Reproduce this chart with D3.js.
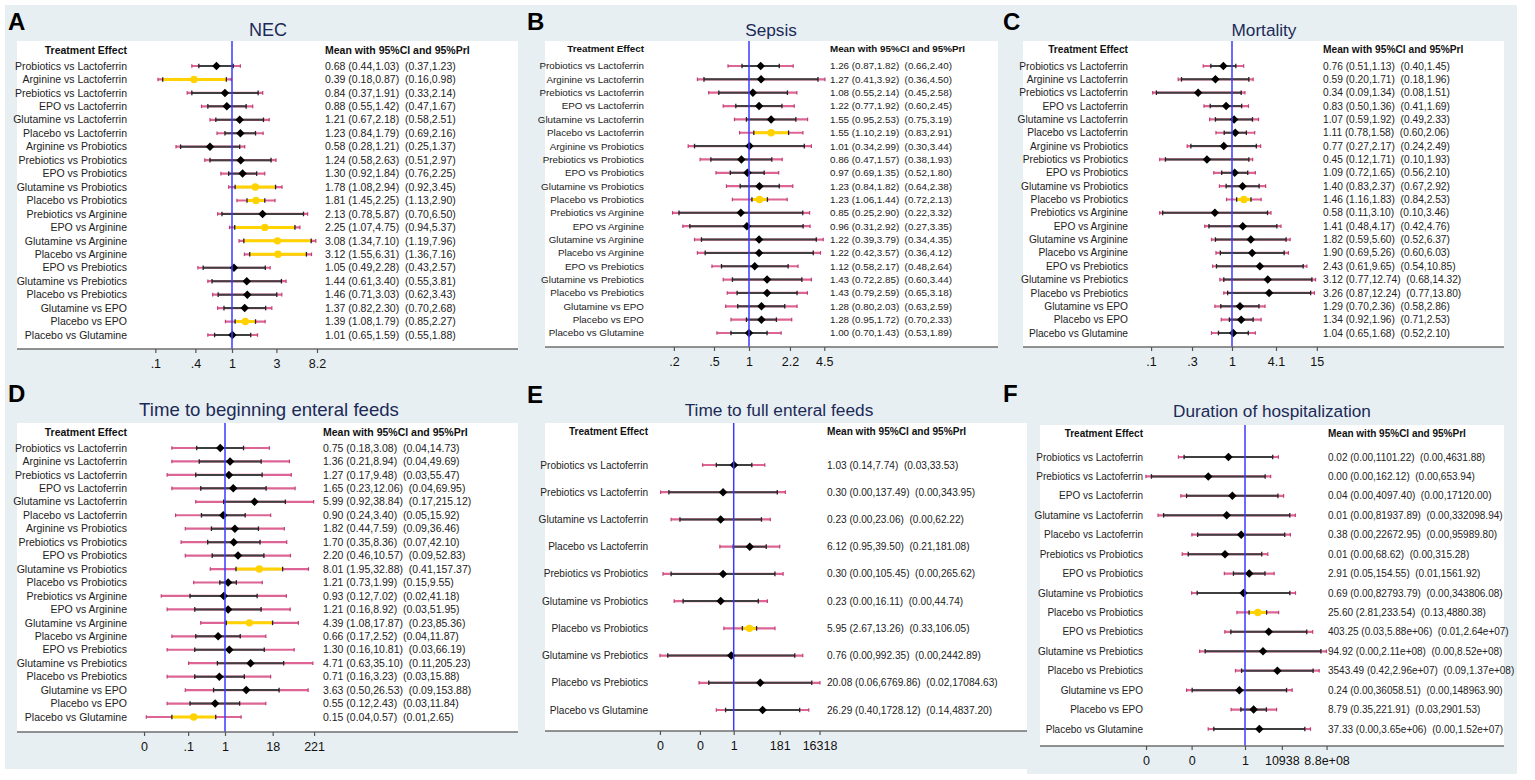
<!DOCTYPE html>
<html>
<head>
<meta charset="utf-8">
<script src="https://cdn.jsdelivr.net/npm/d3@7"></script>
<style>
body { margin: 0; background: #fff; }
text { font-family: "Liberation Sans", Arial, sans-serif; }
</style>
</head>
<body>
<div id="chart"></div>
<script>
///////////////////////////////////////////////////////////////////////////
////////////////////////////// Data ///////////////////////////////////////
///////////////////////////////////////////////////////////////////////////

// row = [mean, ci low, ci high, prI low, prI high]
var comparisons21 = ["Probiotics vs Lactoferrin", "Arginine vs Lactoferrin", "Prebiotics vs Lactoferrin",
    "EPO vs Lactoferrin", "Glutamine vs Lactoferrin", "Placebo vs Lactoferrin", "Arginine vs Probiotics",
    "Prebiotics vs Probiotics", "EPO vs Probiotics", "Glutamine vs Probiotics", "Placebo vs Probiotics",
    "Prebiotics vs Arginine", "EPO vs Arginine", "Glutamine vs Arginine", "Placebo vs Arginine",
    "EPO vs Prebiotics", "Glutamine vs Prebiotics", "Placebo vs Prebiotics", "Glutamine vs EPO",
    "Placebo vs EPO", "Placebo vs Glutamine"];

var necRows = [
    [0.68, 0.44, 1.03, 0.37, 1.23], [0.39, 0.18, 0.87, 0.16, 0.98], [0.84, 0.37, 1.91, 0.33, 2.14],
    [0.88, 0.55, 1.42, 0.47, 1.67], [1.21, 0.67, 2.18, 0.58, 2.51], [1.23, 0.84, 1.79, 0.69, 2.16],
    [0.58, 0.28, 1.21, 0.25, 1.37], [1.24, 0.58, 2.63, 0.51, 2.97], [1.30, 0.92, 1.84, 0.76, 2.25],
    [1.78, 1.08, 2.94, 0.92, 3.45], [1.81, 1.45, 2.25, 1.13, 2.90], [2.13, 0.78, 5.87, 0.70, 6.50],
    [2.25, 1.07, 4.75, 0.94, 5.37], [3.08, 1.34, 7.10, 1.19, 7.96], [3.12, 1.55, 6.31, 1.36, 7.16],
    [1.05, 0.49, 2.28, 0.43, 2.57], [1.44, 0.61, 3.40, 0.55, 3.81], [1.46, 0.71, 3.03, 0.62, 3.43],
    [1.37, 0.82, 2.30, 0.70, 2.68], [1.39, 1.08, 1.79, 0.85, 2.27], [1.01, 0.65, 1.59, 0.55, 1.88]];

var sepsisRows = [
    [1.26, 0.87, 1.82, 0.66, 2.40], [1.27, 0.41, 3.92, 0.36, 4.50], [1.08, 0.55, 2.14, 0.45, 2.58],
    [1.22, 0.77, 1.92, 0.60, 2.45], [1.55, 0.95, 2.53, 0.75, 3.19], [1.55, 1.10, 2.19, 0.83, 2.91],
    [1.01, 0.34, 2.99, 0.30, 3.44], [0.86, 0.47, 1.57, 0.38, 1.93], [0.97, 0.69, 1.35, 0.52, 1.80],
    [1.23, 0.84, 1.82, 0.64, 2.38], [1.23, 1.06, 1.44, 0.72, 2.13], [0.85, 0.25, 2.90, 0.22, 3.32],
    [0.96, 0.31, 2.92, 0.27, 3.35], [1.22, 0.39, 3.79, 0.34, 4.35], [1.22, 0.42, 3.57, 0.36, 4.12],
    [1.12, 0.58, 2.17, 0.48, 2.64], [1.43, 0.72, 2.85, 0.60, 3.44], [1.43, 0.79, 2.59, 0.65, 3.18],
    [1.28, 0.80, 2.03, 0.63, 2.59], [1.28, 0.95, 1.72, 0.70, 2.33], [1.00, 0.70, 1.43, 0.53, 1.89]];

var mortalityRows = [
    [0.76, 0.51, 1.13, 0.40, 1.45], [0.59, 0.20, 1.71, 0.18, 1.96], [0.34, 0.09, 1.34, 0.08, 1.51],
    [0.83, 0.50, 1.36, 0.41, 1.69], [1.07, 0.59, 1.92, 0.49, 2.33], [1.11, 0.78, 1.58, 0.60, 2.06],
    [0.77, 0.27, 2.17, 0.24, 2.49], [0.45, 0.12, 1.71, 0.10, 1.93], [1.09, 0.72, 1.65, 0.56, 2.10],
    [1.40, 0.83, 2.37, 0.67, 2.92], [1.46, 1.16, 1.83, 0.84, 2.53], [0.58, 0.11, 3.10, 0.10, 3.46],
    [1.41, 0.48, 4.17, 0.42, 4.76], [1.82, 0.59, 5.60, 0.52, 6.37], [1.90, 0.69, 5.26, 0.60, 6.03],
    [2.43, 0.61, 9.65, 0.54, 10.85], [3.12, 0.77, 12.74, 0.68, 14.32], [3.26, 0.87, 12.24, 0.77, 13.80],
    [1.29, 0.70, 2.36, 0.58, 2.86], [1.34, 0.92, 1.96, 0.71, 2.53], [1.04, 0.65, 1.68, 0.52, 2.10]];

var beginFeedRows = [
    [0.75, 0.18, 3.08, 0.04, 14.73], [1.36, 0.21, 8.94, 0.04, 49.69], [1.27, 0.17, 9.48, 0.03, 55.47],
    [1.65, 0.23, 12.06, 0.04, 69.95], [5.99, 0.92, 38.84, 0.17, 215.12], [0.90, 0.24, 3.40, 0.05, 15.92],
    [1.82, 0.44, 7.59, 0.09, 36.46], [1.70, 0.35, 8.36, 0.07, 42.10], [2.20, 0.46, 10.57, 0.09, 52.83],
    [8.01, 1.95, 32.88, 0.41, 157.37], [1.21, 0.73, 1.99, 0.15, 9.55], [0.93, 0.12, 7.02, 0.021, 41.18],
    [1.21, 0.16, 8.92, 0.03, 51.95], [4.39, 1.08, 17.87, 0.23, 85.36], [0.66, 0.17, 2.52, 0.04, 11.87],
    [1.30, 0.16, 10.81, 0.03, 66.19], [4.71, 0.63, 35.10, 0.11, 205.23], [0.71, 0.16, 3.23, 0.03, 15.88],
    [3.63, 0.50, 26.53, 0.09, 153.88], [0.55, 0.12, 2.43, 0.03, 11.84], [0.15, 0.04, 0.57, 0.0085, 2.65]];

var comparisonsE = ["Probiotics vs Lactoferrin", "Prebiotics vs Lactoferrin", "Glutamine vs Lactoferrin",
    "Placebo vs Lactoferrin", "Prebiotics vs Probiotics", "Glutamine vs Probiotics", "Placebo vs Probiotics",
    "Glutamine vs Prebiotics", "Placebo vs Prebiotics", "Placebo vs Glutamine"];

var fullFeedRows = [
    [1.03, 0.14, 7.74, 0.03, 33.53], [0.30, 0.00066, 137.49, 0.00026, 343.95],
    [0.23, 0.0023, 23.06, 0.00085, 62.22], [6.12, 0.95, 39.50, 0.21, 181.08],
    [0.30, 0.00085, 105.45, 0.00034, 265.62], [0.23, 0.0033, 16.11, 0.0012, 44.74],
    [5.95, 2.67, 13.26, 0.33, 106.05], [0.76, 0.00058, 992.35, 0.00024, 2442.89],
    [20.08, 0.06, 6769.86, 0.02, 17084.63], [26.29, 0.40, 1728.12, 0.14, 4837.20]];

var comparisonsF = ["Probiotics vs Lactoferrin", "Prebiotics vs Lactoferrin", "EPO vs Lactoferrin",
    "Glutamine vs Lactoferrin", "Placebo vs Lactoferrin", "Prebiotics vs Probiotics", "EPO vs Probiotics",
    "Glutamine vs Probiotics", "Placebo vs Probiotics", "EPO vs Prebiotics", "Glutamine vs Prebiotics",
    "Placebo vs Prebiotics", "Glutamine vs EPO", "Placebo vs EPO", "Placebo vs Glutamine"];

var hospitalRows = [
    [0.0152, 2.1e-7, 1101.22, 5.0e-8, 4631.88], [9.4e-5, 5.5e-11, 162.12, 1.36e-11, 653.94],
    [0.041, 3.9e-7, 4097.40, 9.3e-8, 17120.00], [0.0098, 1.18e-9, 81937.89, 2.9e-10, 332098.94],
    [0.38, 6.4e-6, 22672.95, 1.5e-6, 95989.80], [0.0064, 6.0e-7, 68.62, 1.3e-7, 315.28],
    [2.91, 0.054, 154.55, 0.0054, 1561.92], [0.69, 5.7e-6, 82793.79, 1.4e-6, 343806.08],
    [25.60, 2.81, 233.54, 0.13, 4880.38], [403.25, 0.028, 5.88e6, 0.0062, 2.64e7],
    [94.92, 4.3e-5, 2.11e8, 1.06e-5, 8.52e8], [3543.49, 0.42, 2.96e7, 0.09, 1.37e8],
    [0.24, 1.6e-6, 36058.51, 3.9e-7, 148963.90], [8.79, 0.35, 221.91, 0.03, 2901.53],
    [37.33, 3.8e-4, 3.65e6, 9.2e-5, 1.52e7]];

// axis ticks (positions on the log scale) and their printed labels
var necTicks = [0.15, 0.404, 1, 3, 8.2],           necTickLabels = [".1", ".4", "1", "3", "8.2"];
var sepsisTicks = [0.226, 0.5, 1, 2.25, 4.44],     sepsisTickLabels = [".2", ".5", "1", "2.2", "4.5"];
var mortalityTicks = [0.076, 0.28, 1, 4.06, 14.9], mortalityTickLabels = [".1", ".3", "1", "4.1", "15"];
var beginFeedTicks = [0.0074, 0.107, 1, 18, 221],  beginFeedTickLabels = ["0", ".1", "1", "18", "221"];
var fullFeedTicks = [0.00024, 0.022, 1, 181, 16318], fullFeedTickLabels = ["0", "0", "1", "181", "16318"];
var hospitalTicks = [1.4e-11, 1.4e-6, 1, 10938, 8.8e8], hospitalTickLabels = ["0", "0", "1", "10938", "8.8e+08"];

///////////////////////////////////////////////////////////////////////////
///////////////////////////// Layout //////////////////////////////////////
///////////////////////////////////////////////////////////////////////////

var panels = [
    {letter: "A", title: "NEC", names: comparisons21, rows: necRows, ticks: necTicks, tickLabels: necTickLabels,
     box: [17, 41, 518, 349], cx: 232, k: 40.4, labelX: 127, textX: 325, headerY: 50, rowY: [66, 335],
     fs: 10.5, titleX: 268, titleY: 36, titleFs: 18, letterX: 8, letterY: 30},
    {letter: "B", title: "Sepsis", names: comparisons21, rows: sepsisRows, ticks: sepsisTicks, tickLabels: sepsisTickLabels,
     box: [545, 41, 998, 347], cx: 749, k: 50.5, labelX: 644, textX: 830, headerY: 49, rowY: [66, 333],
     fs: 9.8, titleX: 771, titleY: 36, titleFs: 17.2, letterX: 527, letterY: 30},
    {letter: "C", title: "Mortality", names: comparisons21, rows: mortalityRows, ticks: mortalityTicks, tickLabels: mortalityTickLabels,
     box: [1023, 41, 1504, 347], cx: 1232, k: 31.4, labelX: 1128, textX: 1323, headerY: 49, rowY: [66, 333],
     fs: 10.2, titleX: 1264, titleY: 36, titleFs: 17.2, letterX: 1003, letterY: 30},
    {letter: "D", title: "Time to beginning enteral feeds", names: comparisons21, rows: beginFeedRows, ticks: beginFeedTicks, tickLabels: beginFeedTickLabels,
     box: [17, 423, 518, 732], cx: 225, k: 16.5, labelX: 127, textX: 323, headerY: 432, rowY: [448, 717],
     fs: 10.5, titleX: 269, titleY: 416, titleFs: 18.6, letterX: 8, letterY: 402},
    {letter: "E", title: "Time to full enteral feeds", names: comparisonsE, rows: fullFeedRows, ticks: fullFeedTicks, tickLabels: fullFeedTickLabels,
     box: [545, 423, 1027, 731], cx: 733.7, k: 8.85, labelX: 648, textX: 827, headerY: 431, rowY: [465, 710],
     fs: 10.1, titleX: 779, titleY: 416, titleFs: 17.3, letterX: 527, letterY: 403},
    {letter: "F", title: "Duration of hospitalization", names: comparisonsF, rows: hospitalRows, ticks: hospitalTicks, tickLabels: hospitalTickLabels,
     box: [1040, 425, 1504, 746], cx: 1245, k: 3.96, labelX: 1143, textX: 1328, headerY: 433, rowY: [457, 729],
     fs: 10, titleX: 1272, titleY: 417, titleFs: 17.2, letterX: 1003, letterY: 402}
];

var pink = "#dd6595",
    gold = "#ffd200",
    ciGrey = "#3f3f3f",
    refBlue = "#3a3aff",
    titleNavy = "#1b2a57";

var svg = d3.select("#chart").append("svg")
    .attr("width", 1535)
    .attr("height", 780);

//Light background of the figure
svg.append("rect").attr("x", 5).attr("y", 5).attr("width", 1512).attr("height", 764).style("fill", "#e8eff2");
svg.append("rect").attr("x", 1027).attr("y", 700).attr("width", 490).attr("height", 74).style("fill", "#e8eff2");

//Number format of the estimate column
function fmt(v) {
    if (v >= 1e6) return d3.format(".2e")(v).replace(/e([+-])(\d)$/, "e$10$2");
    return v.toFixed(2);
}

///////////////////////////////////////////////////////////////////////////
////////////////////////// Draw the forest plots //////////////////////////
///////////////////////////////////////////////////////////////////////////

panels.forEach(function(p) {
    var g = svg.append("g").attr("class", "panel");
    var b = p.box;

    g.append("rect")
        .attr("x", b[0]).attr("y", b[1])
        .attr("width", b[2] - b[0]).attr("height", b[3] - b[1])
        .style("fill", "#fff");

    var x = d3.scaleLog()
        .domain([1 / Math.E, Math.E])
        .range([p.cx - p.k, p.cx + p.k]);

    var y = d3.scaleLinear()
        .domain([0, p.names.length - 1])
        .range(p.rowY);

    //Panel letter and title
    g.append("text")
        .attr("x", p.letterX).attr("y", p.letterY)
        .style("font-size", "24px").style("font-weight", "bold").style("fill", "#000")
        .text(p.letter);

    g.append("text")
        .attr("x", p.titleX).attr("y", p.titleY)
        .attr("text-anchor", "middle")
        .style("font-size", p.titleFs + "px").style("fill", titleNavy)
        .text(p.title);

    //Column headers
    g.append("text")
        .attr("x", p.labelX).attr("y", p.headerY).attr("dy", "0.35em")
        .attr("text-anchor", "end")
        .style("font-size", p.fs + "px").style("font-weight", "bold").style("fill", "#111")
        .text("Treatment Effect");

    g.append("text")
        .attr("x", p.textX).attr("y", p.headerY).attr("dy", "0.35em")
        .style("font-size", p.fs + "px").style("font-weight", "bold").style("fill", "#111")
        .text("Mean with 95%CI and 95%PrI");

    var rows = g.selectAll(".row")
        .data(p.rows)
        .enter().append("g")
        .attr("class", "row")
        .attr("transform", function(d, i) { return "translate(0," + y(i) + ")"; });

    rows.append("text")
        .attr("x", p.labelX).attr("dy", "0.35em")
        .attr("text-anchor", "end")
        .style("font-size", p.fs + "px").style("fill", "#222")
        .text(function(d, i) { return p.names[i]; });

    rows.append("text")
        .attr("x", p.textX).attr("dy", "0.35em")
        .style("font-size", p.fs + "px").style("fill", "#222")
        .style("white-space", "pre")
        .text(function(d) {
            return fmt(d[0]) + " (" + fmt(d[1]) + "," + fmt(d[2]) + ")  (" + fmt(d[3]) + "," + fmt(d[4]) + ")";
        });

    function sig(d) { return d[1] > 1 || d[2] < 1; }

    //Prediction interval
    rows.append("line")
        .attr("x1", function(d) { return x(d[3]); })
        .attr("x2", function(d) { return x(d[4]); })
        .style("stroke", pink).style("stroke-width", 2.2);

    rows.selectAll(".prEnd")
        .data(function(d) { return [d[3], d[4]]; })
        .enter().append("line")
        .attr("x1", function(v) { return x(v); }).attr("x2", function(v) { return x(v); })
        .attr("y1", -1.8).attr("y2", 1.8)
        .style("stroke", "#c23d72").style("stroke-width", 1.2);

    //Confidence interval
    rows.append("line")
        .attr("x1", function(d) { return x(d[1]); })
        .attr("x2", function(d) { return x(d[2]); })
        .style("stroke", function(d) { return sig(d) ? gold : ciGrey; })
        .style("stroke-width", function(d) { return sig(d) ? 3 : 2; });

    rows.selectAll(".ciEnd")
        .data(function(d) { return [d[1], d[2]]; })
        .enter().append("line")
        .attr("x1", function(v) { return x(v); }).attr("x2", function(v) { return x(v); })
        .attr("y1", -2.3).attr("y2", 2.3)
        .style("stroke", "#222").style("stroke-width", 1.3);

    //Reference line at 1
    g.append("line")
        .attr("x1", x(1)).attr("x2", x(1))
        .attr("y1", b[1]).attr("y2", b[3])
        .style("stroke", refBlue).style("stroke-width", 1.5);

    //Point estimates
    rows.filter(function(d) { return !sig(d); })
        .append("path")
        .attr("d", d3.symbol().type(d3.symbolSquare).size(36))
        .attr("transform", function(d) { return "translate(" + x(d[0]) + ",0) rotate(45)"; })
        .style("fill", "#000");

    rows.filter(sig)
        .append("circle")
        .attr("cx", function(d) { return x(d[0]); })
        .attr("r", 3.7)
        .style("fill", gold);

    //Axis
    g.append("line")
        .attr("x1", b[0]).attr("x2", b[2])
        .attr("y1", b[3]).attr("y2", b[3])
        .style("stroke", "#6e6e6e").style("stroke-width", 1.6);

    var xAxis = d3.axisBottom(x)
        .tickValues(p.ticks)
        .tickFormat(function(d, i) { return p.tickLabels[i]; })
        .tickSize(4)
        .tickPadding(6);

    var ax = g.append("g")
        .attr("transform", "translate(0," + b[3] + ")")
        .call(xAxis);
    ax.select(".domain").remove();
    ax.selectAll(".tick line").style("stroke", "#555").style("stroke-width", 1.2);
    ax.selectAll(".tick text")
        .style("font-family", "'Liberation Sans', Arial, sans-serif")
        .style("font-size", "12.5px").style("fill", "#111");
});
</script>
</body>
</html>
